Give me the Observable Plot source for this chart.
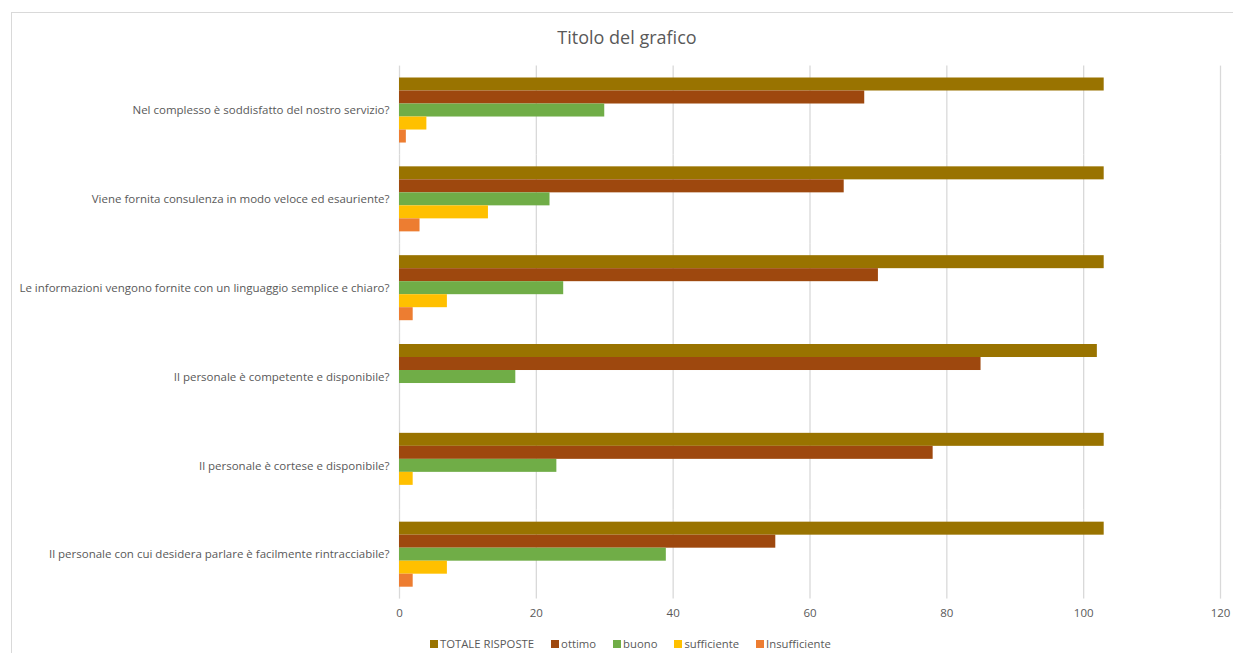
<!DOCTYPE html>
<html>
<head>
<meta charset="utf-8">
<script src="https://cdn.jsdelivr.net/npm/d3@7"></script>
<script src="https://cdn.jsdelivr.net/npm/@observablehq/plot@0.6"></script>
<style>
  html, body { margin: 0; padding: 0; background: #fff; }
  body { width: 1233px; height: 653px; position: relative; overflow: hidden;
         font-family: "Liberation Sans Narrow", "Arial Narrow", "Open Sans", sans-serif; color: #595959; }
  #frame { position: absolute; left: 11px; top: 12px; width: 1300px; height: 700px;
           border-left: 1.5px solid #d9d9d9; border-top: 1.5px solid #d9d9d9; }
  #title { position: absolute; left: 0; top: 25px; width: 1254px; text-align: center;
           font-size: 18px; color: #595959; }
  #chart { position: absolute; left: 0; top: 55px; }
  #legend { position: absolute; left: 430px; top: 636px; display: flex; gap: 17px;
            font-size: 11.3px; color: #595959; white-space: nowrap; }
  #legend .item { display: flex; align-items: center; gap: 2px; }
  #legend .sw { width: 8px; height: 8px; display: inline-block; }
</style>
</head>
<body>
<div id="frame"></div>
<div id="title">Titolo del grafico</div>
<div id="chart"></div>
<div id="legend"></div>
<script>
const questions = [
  "Nel complesso è soddisfatto del nostro servizio?",
  "Viene fornita consulenza in modo veloce ed esauriente?",
  "Le informazioni vengono fornite con un linguaggio semplice e chiaro?",
  "Il personale è competente e disponibile?",
  "Il personale è cortese e disponibile?",
  "Il personale con cui desidera parlare è facilmente rintracciabile?"
];
const seriesNames = ["TOTALE RISPOSTE", "ottimo", "buono", "sufficiente", "Insufficiente"];
const seriesColors = ["#997300", "#9E480E", "#70AD47", "#FFC000", "#ED7D31"];
const totaleRisposte = [103, 103, 103, 102, 103, 103];
const ottimo = [68, 65, 70, 85, 78, 55];
const buono = [30, 22, 24, 17, 23, 39];
const sufficiente = [4, 13, 7, 0, 2, 7];
const insufficiente = [1, 3, 2, 0, 0, 2];
const xTicks = [0, 20, 40, 60, 80, 100, 120];

const seriesValues = [totaleRisposte, ottimo, buono, sufficiente, insufficiente];
const rows = [];
questions.forEach((q, i) => {
  seriesNames.forEach((s, j) => {
    rows.push({question: q, series: s, value: seriesValues[j][i]});
  });
});

const FONT = '"Liberation Sans Narrow", "Arial Narrow", "Open Sans", sans-serif';
const plot = Plot.plot({
  width: 1233,
  height: 573,
  marginLeft: 399,
  marginRight: 13,
  marginTop: 10.6,
  marginBottom: 29.4,
  style: { fontFamily: FONT, fontSize: "11.5px", color: "#595959", background: "transparent" },
  x: { domain: [0, 120], ticks: xTicks, tickFormat: d => String(d), label: null, tickSize: 0, tickPadding: 10 },
  fy: { domain: questions, padding: 0, round: false, label: null, tickSize: 0, tickPadding: 10, axis: null },
  y: { domain: seriesNames, paddingInner: 0, paddingOuter: 0.915, round: false, axis: null },
  color: { domain: seriesNames, range: seriesColors },
  marks: [
    Plot.gridX(xTicks, { stroke: "#d9d9d9", strokeOpacity: 1, strokeWidth: 1.3 }),
    Plot.barX(rows, { fy: "question", y: "series", x: "value", fill: "series" }),
    Plot.axisX({ ticks: xTicks, tickSize: 0, tickPadding: 10, fontSize: "11.5px", label: null, fill: "#595959" }),
    Plot.axisFy({ anchor: "left", tickSize: 0, tickPadding: 10, label: null, fontSize: "11.5px", fill: "#595959" })
  ]
});
document.getElementById("chart").appendChild(plot);

const legend = document.getElementById("legend");
seriesNames.forEach((s, i) => {
  const it = document.createElement("div");
  it.className = "item";
  const sw = document.createElement("span");
  sw.className = "sw";
  sw.style.background = seriesColors[i];
  const t = document.createElement("span");
  t.textContent = s;
  it.appendChild(sw); it.appendChild(t);
  legend.appendChild(it);
});
</script>
</body>
</html>
